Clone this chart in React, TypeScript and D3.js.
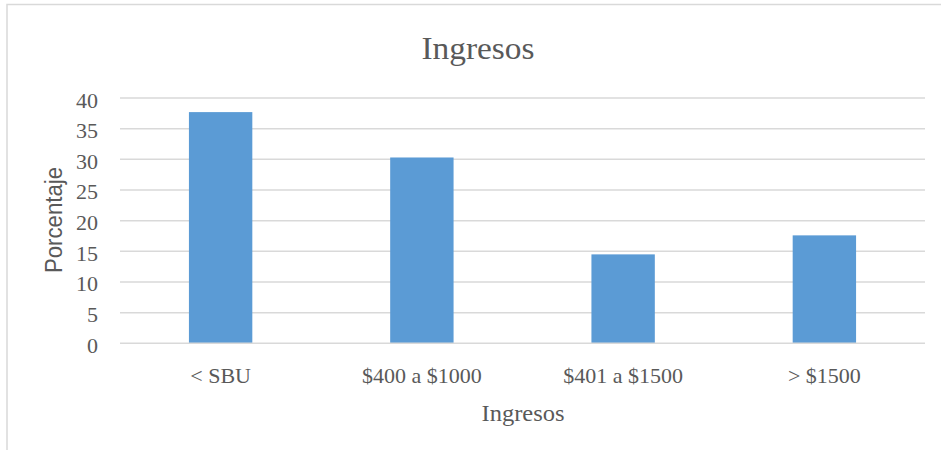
import React from "react";
import * as d3 from "d3";

const categories = ["< SBU", "$400 a $1000", "$401 a $1500", "> $1500"];
const values = [37.7, 30.3, 14.5, 17.6];
const yTicks = [0, 5, 10, 15, 20, 25, 30, 35, 40];

const W = 941;
const H = 450;
const plot = { left: 120, right: 925, top: 98, bottom: 343.3 };

export default function App() {
  const x = d3
    .scaleBand<string>()
    .domain(categories)
    .range([plot.left, plot.right])
    .paddingInner(0.685)
    .paddingOuter(0.3425);
  const y = d3.scaleLinear().domain([0, 40]).range([plot.bottom, plot.top]);

  const serif = "'Liberation Serif', 'Times New Roman', serif";
  const sans = "'Liberation Sans', Arial, sans-serif";
  const textColor = "#595959";

  return (
    <svg
      width={W}
      height={H}
      style={{ position: "absolute", left: 0, top: 0, background: "#fff" }}
    >
      {/* chart frame */}
      <rect x={7} y={4.5} width={960} height={470} fill="#fff" stroke="#d9d9d9" strokeWidth={1.5} />

      {/* title */}
      <text
        x={478}
        y={59}
        textAnchor="middle"
        fontFamily={serif}
        fontSize={31}
        fill={textColor}
        textLength={113}
        lengthAdjust="spacingAndGlyphs"
      >
        Ingresos
      </text>

      {/* gridlines */}
      {yTicks.filter((t) => t > 0).map((t) => (
        <line
          key={t}
          x1={plot.left}
          x2={plot.right}
          y1={y(t)}
          y2={y(t)}
          stroke="#d9d9d9"
          strokeWidth={1.5}
        />
      ))}

      {/* y tick labels */}
      {yTicks.map((t) => (
        <text
          key={t}
          x={98}
          y={y(t) + 9.5}
          textAnchor="end"
          fontFamily={serif}
          fontSize={22}
          fill={textColor}
        >
          {t}
        </text>
      ))}

      {/* bars */}
      {categories.map((c, i) => (
        <rect
          key={c}
          x={x(c)}
          y={y(values[i])}
          width={x.bandwidth()}
          height={y(0) - y(values[i])}
          fill="#5b9bd5"
        />
      ))}

      {/* baseline */}
      <line
        x1={plot.left}
        x2={plot.right}
        y1={y(0)}
        y2={y(0)}
        stroke="#d9d9d9"
        strokeWidth={1.5}
      />

      {/* category labels */}
      {categories.map((c) => (
        <text
          key={c}
          x={(x(c) ?? 0) + x.bandwidth() / 2}
          y={383}
          textAnchor="middle"
          fontFamily={serif}
          fontSize={22}
          fill={textColor}
        >
          {c}
        </text>
      ))}

      {/* axis titles */}
      <text
        x={523}
        y={421}
        textAnchor="middle"
        fontFamily={serif}
        fontSize={24}
        fill={textColor}
        textLength={83}
        lengthAdjust="spacingAndGlyphs"
      >
        Ingresos
      </text>
      <text
        transform={`translate(62, 220) rotate(-90)`}
        textAnchor="middle"
        fontFamily={sans}
        fontSize={23}
        fill={textColor}
        textLength={106}
        lengthAdjust="spacingAndGlyphs"
      >
        Porcentaje
      </text>
    </svg>
  );
}
